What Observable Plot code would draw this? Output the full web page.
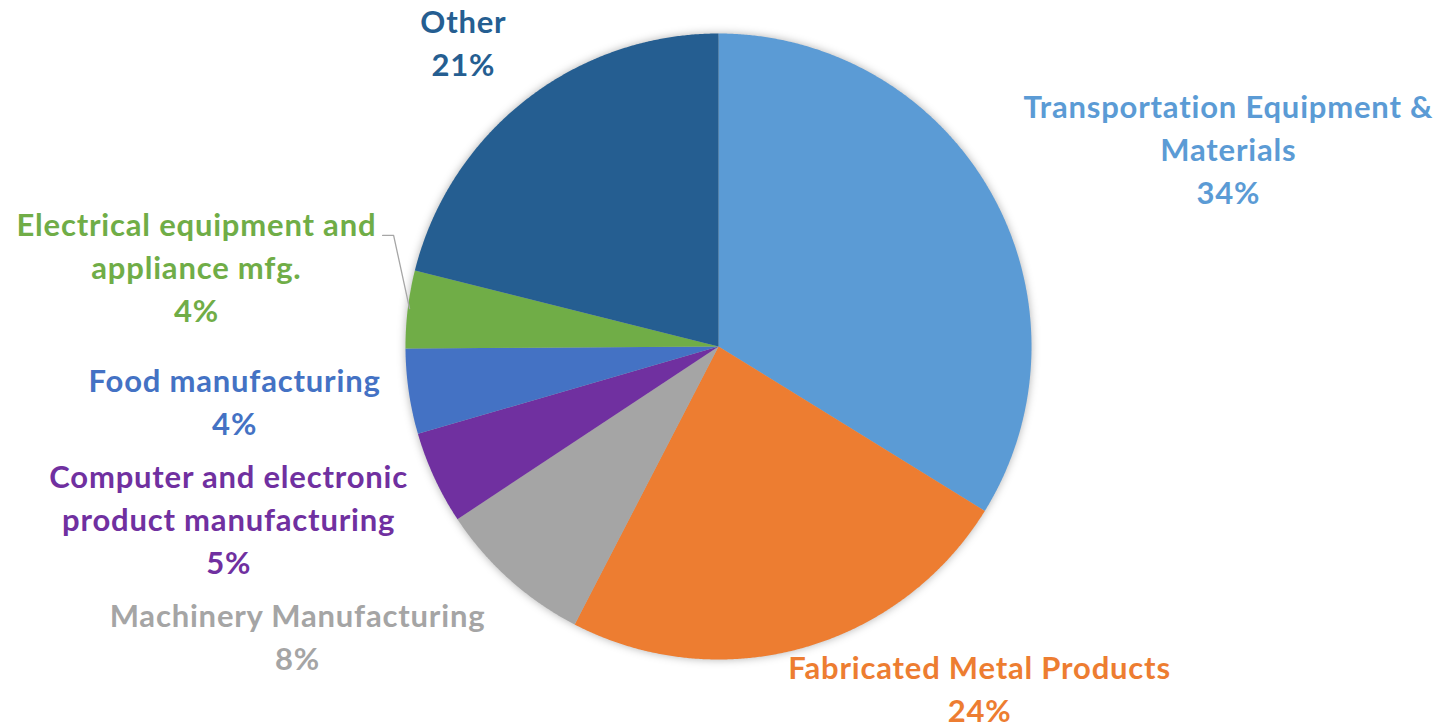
<!DOCTYPE html>
<html>
<head>
<meta charset="utf-8">
<script src="https://cdn.jsdelivr.net/npm/d3@7"></script>
<script src="https://cdn.jsdelivr.net/npm/@observablehq/plot@0.6"></script>
<style>
  html, body { margin: 0; padding: 0; background: #fff; }
  #chart { width: 1442px; height: 727px; }
</style>
</head>
<body>
<div id="chart"></div>
<script>
// ---- data ----
const categories = [
  "Transportation Equipment & Materials",
  "Fabricated Metal Products",
  "Machinery Manufacturing",
  "Computer and electronic product manufacturing",
  "Food manufacturing",
  "Electrical equipment and appliance mfg.",
  "Other"
];
const values = [33.8, 23.8, 8.1, 4.8, 4.4, 4.0, 21.1];
const percentLabels = ["34%", "24%", "8%", "5%", "4%", "4%", "21%"];
const labelLines = [
  "Transportation Equipment &\nMaterials",
  "Fabricated Metal Products",
  "Machinery Manufacturing",
  "Computer and electronic\nproduct manufacturing",
  "Food manufacturing",
  "Electrical equipment and\nappliance mfg.",
  "Other"
];
const colors = ["#5B9BD5", "#ED7D31", "#A5A5A5", "#7030A0", "#4472C4", "#70AD47", "#255E91"];

// label anchor positions in pie-radius units (centre = 0,0; y downward)
const labelPos = [
  [1.629, -0.636], [0.834, 1.088], [-1.345, 0.920], [-1.565, 0.546],
  [-1.546, 0.171], [-1.668, -0.260], [-0.815, -0.978]
];
const leader = [[-1.073, -0.355], [-1.038, -0.355], [-0.987, -0.121]];

// ---- geometry ----
const W = 1442, H = 727, cx = 718, cy = 346, R = 313;
const pie = d3.pie().sort(null).value(d => d.value).startAngle(0).endAngle(2 * Math.PI);
const arcs = pie(categories.map((c, i) => ({cat: c, value: values[i]})));
const pts = [];
arcs.forEach(a => {
  const cat = a.data.cat;
  pts.push({cat, x: 0, y: 0});
  const n = Math.max(2, Math.ceil((a.endAngle - a.startAngle) / 0.005));
  for (let k = 0; k <= n; k++) {
    const t = a.startAngle + (a.endAngle - a.startAngle) * k / n;
    pts.push({cat, x: Math.sin(t), y: -Math.cos(t)});
  }
});
const labels = categories.map((c, i) => ({
  cat: c,
  text: labelLines[i] + "\n" + percentLabels[i],
  x: labelPos[i][0], y: labelPos[i][1]
}));

const chart = Plot.plot({
  width: W, height: H,
  margin: 0,
  x: {domain: [-cx / R, (W - cx) / R], range: [0, W], axis: null},
  y: {domain: [-cy / R, (H - cy) / R], range: [0, H], axis: null},
  color: {domain: categories, range: colors},
  style: {background: "white"},
  marks: [
    Plot.line(pts, {x: "x", y: "y", z: "cat", fill: "cat", stroke: "none", curve: "linear-closed"}),
    Plot.line(leader, {x: d => d[0], y: d => d[1], stroke: "#a6a6a6", strokeWidth: 1.3}),
    Plot.text(labels, {
      x: "x", y: "y", text: "text", fill: "cat",
      fontSize: 31, fontWeight: "bold", fontFamily: "Lato",
      lineHeight: 43 / 31, lineAnchor: "middle", textAnchor: "middle"
    })
  ]
});
const g = chart.querySelector('g[aria-label="line"]');
if (g) g.style.filter = "drop-shadow(0px 0px 4px rgba(0,0,0,0.3))";
const t = chart.querySelector('g[aria-label="text"]');
if (t) t.style.letterSpacing = "0.8px";
document.getElementById("chart").appendChild(chart);
</script>
</body>
</html>
